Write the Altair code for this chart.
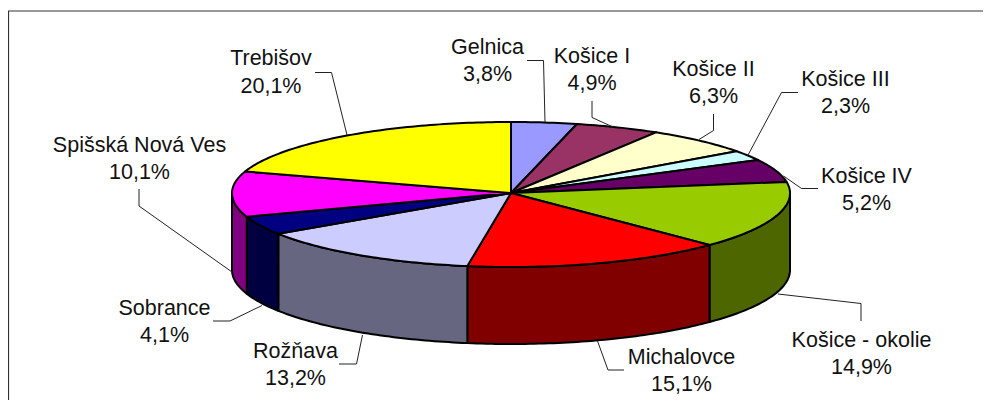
import math
import altair as alt

# ---- chart values ----
districts = ["Gelnica", "Košice I", "Košice II", "Košice III", "Košice IV", "Košice - okolie",
             "Michalovce", "Rožňava", "Sobrance", "Spišská Nová Ves", "Trebišov"]
shares = [3.8, 4.9, 6.3, 2.3, 5.2, 14.9, 15.1, 13.2, 4.1, 10.1, 20.1]
top_colors = ["#9999ff", "#993366", "#ffffcc", "#ccffff", "#660066", "#99cc00",
              "#ff0000", "#ccccff", "#000080", "#ff00ff", "#ffff00"]
side_colors = ["#4d4d80", "#4d1a33", "#808066", "#668080", "#330033", "#4d6600",
               "#800000", "#666680", "#000040", "#800080", "#808000"]

# ---- layout: page pixels ----
CX, CY = 511, 193
RX, RY_BACK, RY_FRONT = 279, 71, 74
DEPTH = 77
LEFT, TOP = 8, 8
W, H = 975, 392

label_pos = {  # centre x, baseline of the name, baseline of the share
    "Gelnica": (487.5, 53.5, 80.5), "Košice I": (592, 62.5, 89.5), "Košice II": (713.5, 75.5, 102.5),
    "Košice III": (845.5, 85.5, 112.5), "Košice IV": (866.5, 182.5, 209.5),
    "Košice - okolie": (861.5, 346.5, 373.5), "Michalovce": (681.5, 363.5, 390.5),
    "Rožňava": (295.5, 357.5, 384.5), "Sobrance": (164.5, 314.5, 341.5),
    "Spišská Nová Ves": (139.5, 151.5, 179), "Trebišov": (271, 65, 93),
}
leaders = {
    "Gelnica": [(527, 60.5), (543.5, 60.5), (545, 122)],
    "Košice I": [(592, 101), (592, 117.5), (613, 127)],
    "Košice II": [(713.5, 114), (713.5, 130.5), (699, 139.5)],
    "Košice III": [(798, 92.5), (781.5, 92.5), (747.5, 156)],
    "Košice IV": [(818, 188.5), (801.5, 188.5), (783.5, 176)],
    "Košice - okolie": [(861, 321), (861, 303.5), (778, 294)],
    "Michalovce": [(624, 370), (608, 370), (597.5, 341)],
    "Rožňava": [(339, 364), (356.5, 364), (362.5, 335)],
    "Sobrance": [(213, 321), (230, 321), (262, 305.5)],
    "Spišská Nová Ves": [(139, 189), (139, 206), (232, 272)],
    "Trebišov": [(315, 72.5), (331.5, 72.5), (347, 135)],
}


def rim(deg, drop=0.0):
    a = math.radians(deg)
    c = math.cos(a)
    return [CX + RX * math.sin(a), CY - c * (RY_BACK if c > 0 else RY_FRONT) + drop]


def arc(a0, a1):
    n = max(2, int(abs(a1 - a0)) + 2)
    return [a0 + (a1 - a0) * i / (n - 1) for i in range(n)]


def polygon(ring, fill):
    return {"type": "Feature", "properties": {"fill": fill},
            "geometry": {"type": "Polygon", "coordinates": [ring + [ring[0]]]}}


side_shapes, top_shapes = [], []
total = sum(shares)
start = 0.0
for share, top_c, side_c in zip(shares, top_colors, side_colors):
    end = start + share / total * 360
    top_shapes.append(polygon([[CX, CY]] + [rim(d) for d in arc(start, end)], top_c))
    a0, a1 = max(start, 90), min(end, 270)
    if a1 > a0:
        angles = arc(a0, a1)
        ring = [rim(d) for d in angles] + [rim(d, DEPTH) for d in reversed(angles)]
        side_shapes.append(polygon(ring, side_c))
    start = end

x_scale = alt.Scale(domain=[LEFT, LEFT + W], range=[0, W])
y_scale = alt.Scale(domain=[TOP, TOP + H], range=[0, H])


def pie_layer(shapes):
    return alt.Chart(alt.Data(values=shapes)).mark_geoshape(
        stroke="#000000", strokeWidth=2, strokeJoin="round"
    ).encode(fill=alt.Fill("properties.fill:N", scale=None)).project(
        type="identity", scale=1, translate=[-LEFT, -TOP]
    )


leader_rows = [{"name": k, "i": i, "x": p[0], "y": p[1]}
               for k, pts in leaders.items() for i, p in enumerate(pts)]
leader_layer = alt.Chart(alt.Data(values=leader_rows)).mark_line(
    color="#222222", strokeWidth=1, interpolate="linear"
).encode(
    x=alt.X("x:Q", scale=x_scale, axis=None),
    y=alt.Y("y:Q", scale=y_scale, axis=None),
    detail="name:N",
    order="i:Q",
)

text_rows = []
for name, share in zip(districts, shares):
    cx, y1, y2 = label_pos[name]
    text_rows.append({"t": name, "x": cx, "y": y1})
    text_rows.append({"t": f"{share:.1f}%".replace(".", ","), "x": cx, "y": y2})
text_layer = alt.Chart(alt.Data(values=text_rows)).mark_text(
    font="Liberation Sans", fontSize=21.5, color="#111111", align="center", baseline="alphabetic"
).encode(
    x=alt.X("x:Q", scale=x_scale, axis=None),
    y=alt.Y("y:Q", scale=y_scale, axis=None),
    text="t:N",
)

frame_rows = [{"x": LEFT + 0.5, "y": TOP + 3, "k": 0}, {"x": LEFT + 0.5, "y": TOP + H, "k": 1},
              {"x": LEFT + W, "y": TOP + 3, "k": -1}]
frame_layer = alt.Chart(alt.Data(values=frame_rows)).mark_line(
    color="#333333", strokeWidth=1.2
).encode(
    x=alt.X("x:Q", scale=x_scale, axis=None),
    y=alt.Y("y:Q", scale=y_scale, axis=None),
    order="k:Q",
)

chart = alt.layer(
    frame_layer, pie_layer(side_shapes), pie_layer(top_shapes), leader_layer, text_layer
).properties(
    width=W, height=H, padding=0, autosize=alt.AutoSizeParams(type="none"),
    background="#ffffff",
).configure_view(stroke=None)

chart.save("out.html", embed_options={"renderer": "svg", "actions": False})
